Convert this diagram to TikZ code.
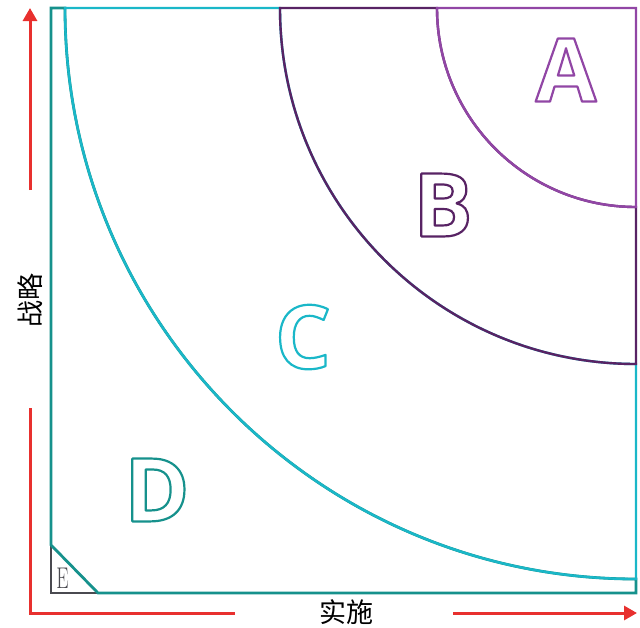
\documentclass[tikz,border=0pt]{standalone}
\usepackage{fontspec}
\newfontfamily\cjk{Noto Sans CJK SC}
\newfontfamily\letterfont{Open Sans}[BoldFont={* Bold}]
\usetikzlibrary{arrows.meta}
\definecolor{cA}{RGB}{145,70,165}
\definecolor{cB}{RGB}{88,35,100}
\definecolor{cC}{RGB}{26,183,200}
\definecolor{cD}{RGB}{22,145,140}
\definecolor{cE}{RGB}{74,74,80}
\definecolor{cR}{RGB}{232,48,46}
\newcommand{\outlinetext}[1]{\special{pdf:literal direct 1 Tr 2.2 w 1 j}#1\special{pdf:literal direct 0 Tr}}
\tikzset{
  region/.style={line width=2.4pt, line join=miter},
  bigletter/.style={font=\letterfont\bfseries\fontsize{88}{88}\selectfont, inner sep=0pt},
  redarrow/.style={cR, line width=3pt, -{Triangle[length=13pt,width=14pt]}},
  redline/.style={cR, line width=3pt},
  axislabel/.style={font=\cjk\fontsize{27}{27}\selectfont, inner sep=0pt},
}
\begin{document}
\begin{tikzpicture}[x=1pt,y=1pt]
\useasboundingbox (0,0) rectangle (640,-627);
% E region
\draw[cE, region] (98,-593) -- (51,-593) -- (51,-545);
% D region
\draw[cD, region, line width=2.8pt] (51,-545) -- (51,-8) -- (65,-8) arc[start angle=180,end angle=270,radius=571] -- (636,-593) -- (98,-593) -- cycle;
% C region
\draw[cC, region] (65,-8) -- (280,-8) arc[start angle=180,end angle=270,radius=356] -- (636,-579) arc[start angle=270,end angle=180,radius=571] -- cycle;
% B region
\draw[cB, region] (280,-8) -- (437,-8) arc[start angle=180,end angle=270,radius=199] -- (636,-364) arc[start angle=270,end angle=180,radius=356] -- cycle;
% A region
\draw[cA, region] (437,-8) -- (636,-8) -- (636,-207) arc[start angle=270,end angle=180,radius=199] -- cycle;

% letters
\node[bigletter, text=cA] (A) at (566,-70) {\outlinetext{A}};
\node[bigletter, text=cB] (B) at (443,-205) {\outlinetext{B}};
\node[bigletter, text=cC] (C) at (303,-337) {\outlinetext{C}};
\node[bigletter, text=cD] (D) at (157,-490) {\outlinetext{D}};
\node[cE, inner sep=0pt, font=\fontsize{30}{30}\selectfont, xscale=0.65] (E) at (62.5,-578) {E};

% axes
\coordinate (s1) at (30,-190);
\coordinate (t1) at (30,-8);
\draw[redarrow] (s1) -- (t1);
\coordinate (s2) at (30,-408);
\coordinate (k2) at (30,-613);
\coordinate (t2) at (235,-613);
\draw[redline, line join=miter] (s2) -- (k2) -- (t2);
\coordinate (s3) at (453,-613);
\coordinate (t3) at (637,-613);
\draw[redarrow] (s3) -- (t3);

\node[axislabel, rotate=90] (zl) at (30,-300) {战略};
\node[axislabel] (ss) at (346,-612) {实施};
\end{tikzpicture}
\end{document}
